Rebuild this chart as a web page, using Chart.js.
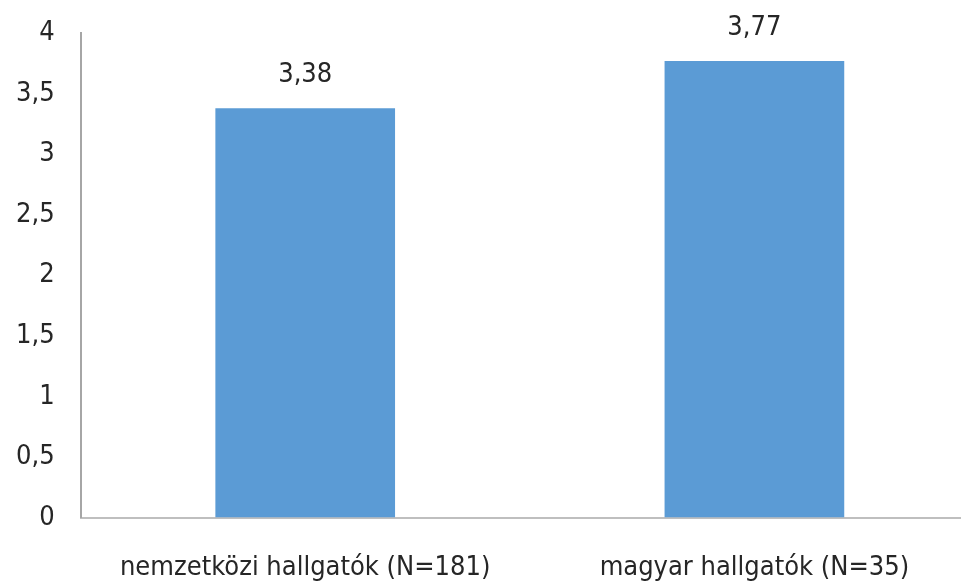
<!DOCTYPE html>
<html>
<head>
<meta charset="utf-8">
<script src="https://cdn.jsdelivr.net/npm/chart.js@4"></script>
<style>
  html, body { margin: 0; padding: 0; background: #fff; overflow: hidden; }
  #wrap { width: 989px; height: 627px; margin-left: -10px; margin-top: -9px; }
</style>
</head>
<body>
<div id="wrap"><canvas id="barChart"></canvas></div>
<script>
// adatok
const categories = ['nemzetközi hallgatók (N=181)', 'magyar hallgatók (N=35)'];
const values = [3.38, 3.77];
const yTicks = [0, 0.5, 1, 1.5, 2, 2.5, 3, 3.5, 4];

const fontFamily = '"Liberation Sans Narrow", "DejaVu Sans Condensed", sans-serif';
const textColor = '#262626';

const fmt = v => String(v).replace('.', ',');

// értékcímkék a sávok fölé
const valueLabels = {
    id: 'valueLabels',
    afterDatasetsDraw(chart) {
        const ctx = chart.ctx;
        const meta = chart.getDatasetMeta(0);
        ctx.save();
        ctx.font = '27px ' + fontFamily;
        ctx.fillStyle = textColor;
        ctx.textAlign = 'center';
        ctx.textBaseline = 'middle';
        meta.data.forEach((bar, i) => {
            ctx.fillText(fmt(values[i]), bar.x, bar.y - 33);
        });
        ctx.restore();
    }
};

new Chart(document.getElementById('barChart'), {
    type: 'bar',
    data: {
        labels: categories,
        datasets: [{
            data: values,
            backgroundColor: '#5B9BD5',
            barPercentage: 0.4,
            categoryPercentage: 1
        }]
    },
    options: {
        responsive: true,
        maintainAspectRatio: false,
        animation: false,
        layout: { padding: { top: 23, left: 0, right: 0, bottom: 0 } },
        plugins: { legend: { display: false }, tooltip: { enabled: false } },
        scales: {
            x: {
                grid: { display: false, drawTicks: false },
                border: { color: '#BFBFBF', width: 2 },
                ticks: {
                    color: textColor,
                    font: { family: fontFamily, size: 27 },
                    padding: 34,
                    maxRotation: 0
                }
            },
            y: {
                min: yTicks[0],
                max: yTicks[yTicks.length - 1],
                afterBuildTicks: axis => { axis.ticks = yTicks.map(v => ({ value: v })); },
                grid: { display: false, drawTicks: false },
                border: { color: '#A6A6A6', width: 2 },
                ticks: {
                    color: textColor,
                    font: { family: fontFamily, size: 27 },
                    padding: 26,
                    callback: v => fmt(v)
                }
            }
        }
    },
    plugins: [valueLabels]
});
</script>
</body>
</html>
